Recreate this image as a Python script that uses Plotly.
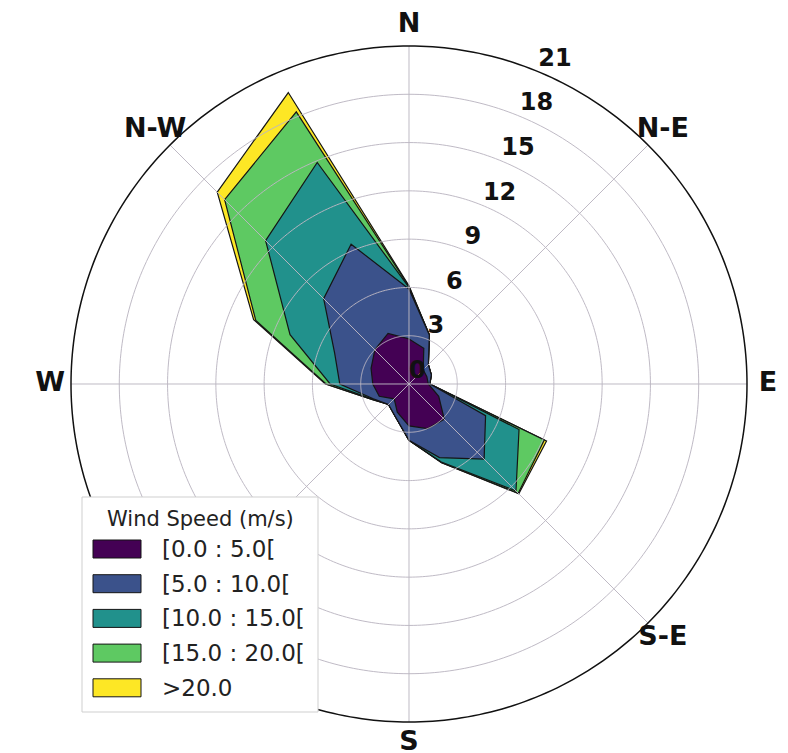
import numpy as np
import plotly.graph_objects as go

# 16 compass sectors, clockwise from north
directions = ["N", "NNE", "NE", "ENE", "E", "ESE", "SE", "SSE",
              "S", "SSW", "SW", "WSW", "W", "WNW", "NW", "NNW"]
dir_degrees = np.arange(len(directions)) * 22.5

# frequency (%) per sector for each wind-speed class
freq_0_5 = [2.8, 2.4, 1.25, 1.2, 1.2, 2.0, 3.1, 3.0, 2.6, 1.9, 1.3, 2.0, 2.25, 2.55, 3.0, 3.4]
freq_5_10 = [3.1, 0.9, 0.45, 0.3, 0.1, 3.15, 3.5, 1.95, 0.9, 0.3, 0.5, 0.4, 2.05, 2.45, 4.5, 6.0]
freq_10_15 = [0.1, 0.0, 0.0, 0.0, 0.0, 2.25, 2.8, 0.3, 0.0, 0.0, 0.0, 0.05, 0.6, 3.0, 5.1, 5.5]
freq_15_20 = [0.05, 0.0, 0.0, 0.0, 0.0, 1.7, 0.2, 0.05, 0.0, 0.0, 0.0, 0.05, 0.25, 2.3, 3.6, 3.4]
freq_20_up = [0.05, 0.0, 0.0, 0.0, 0.0, 0.15, 0.05, 0.0, 0.0, 0.0, 0.0, 0.0, 0.05, 0.15, 0.65, 1.3]

speed_labels = ["[0.0 : 5.0[", "[5.0 : 10.0[", "[10.0 : 15.0[", "[15.0 : 20.0[", ">20.0"]
speed_colors = ["#440154", "#3b528b", "#21918c", "#5ec962", "#fde725"]
legend_title = "Wind Speed (m/s)"

radial_ticks = [0, 3, 6, 9, 12, 15, 18, 21]
compass_ticks = [0, 45, 90, 135, 180, 225, 270, 315]
compass_labels = ["N", "N-E", "E", "S-E", "S", "", "W", "N-W"]

table = np.array([freq_0_5, freq_5_10, freq_10_15, freq_15_20, freq_20_up])
stacked = np.cumsum(table, axis=0)
r_max = radial_ticks[-1]
r_label = 22.3          # radius where the compass names sit
r_axis = r_label        # axis range reaches the compass names

fig = go.Figure()

# stacked contour polygons: largest first so the calmest class sits on top
for i in reversed(range(len(speed_labels))):
    r_vals = np.append(stacked[i], stacked[i][0])
    th_vals = np.append(dir_degrees, dir_degrees[0])
    fig.add_trace(go.Scatterpolar(
        r=r_vals, theta=th_vals, mode="lines", fill="toself",
        fillcolor=speed_colors[i],
        line=dict(color="#151515", width=1.2),
        name=speed_labels[i], showlegend=False, hoverinfo="skip",
    ))

# grid drawn over the filled areas
grid_color = "rgba(188,182,194,0.95)"
circle_theta = np.linspace(0, 360, 361)
for rv in radial_ticks[1:-1]:
    fig.add_trace(go.Scatterpolar(
        r=np.full_like(circle_theta, rv), theta=circle_theta, mode="lines",
        line=dict(color=grid_color, width=1), showlegend=False, hoverinfo="skip",
    ))
spoke_r, spoke_t = [], []
for t in compass_ticks:
    spoke_r += [0, r_max, None]
    spoke_t += [t, t, None]
fig.add_trace(go.Scatterpolar(
    r=spoke_r, theta=spoke_t, mode="lines",
    line=dict(color=grid_color, width=1), showlegend=False, hoverinfo="skip",
))

# outer frame at the top of the scale
fig.add_trace(go.Scatterpolar(
    r=np.full_like(circle_theta, r_max), theta=circle_theta, mode="lines",
    line=dict(color="#111111", width=1.5), showlegend=False, hoverinfo="skip",
))

# radial tick labels along the 22.5 degree bearing
fig.add_trace(go.Scatterpolar(
    r=radial_ticks, theta=[22.5] * len(radial_ticks), mode="text",
    text=[str(v) for v in radial_ticks], textposition="top right",
    textfont=dict(family="DejaVu Sans", size=24, color="#111111", weight="bold"),
    showlegend=False, hoverinfo="skip", cliponaxis=False,
))

# compass labels centred just outside the frame
fig.add_trace(go.Scatterpolar(
    r=[r_label] * len(compass_ticks), theta=compass_ticks, mode="text",
    text=compass_labels, textposition="middle center",
    textfont=dict(family="DejaVu Sans", size=27, color="#111111", weight="bold"),
    showlegend=False, hoverinfo="skip", cliponaxis=False,
))

# legend box drawn in paper coordinates
W, H = 788, 753
box_l, box_r, box_t, box_b = 82, 318, 497, 712
patch_l, patch_w, patch_h = 93, 48, 18
text_l = 160
title_y = 519
row_y0, row_step = 549, 34.7


def px(x):
    return x / W


def py(y):
    return 1 - y / H


shapes = [dict(type="rect", xref="paper", yref="paper",
               x0=px(box_l), x1=px(box_r), y0=py(box_b), y1=py(box_t),
               fillcolor="white", line=dict(color="#cfcfcf", width=1), layer="above")]
annotations = [dict(text=legend_title, xref="paper", yref="paper",
                    x=px((box_l + box_r) / 2), y=py(title_y), xanchor="center", yanchor="middle",
                    showarrow=False, font=dict(family="DejaVu Sans", size=21, color="#222222"))]
for k, (lab, col) in enumerate(zip(speed_labels, speed_colors)):
    cy = row_y0 + k * row_step
    shapes.append(dict(type="rect", xref="paper", yref="paper",
                       x0=px(patch_l), x1=px(patch_l + patch_w),
                       y0=py(cy + patch_h / 2), y1=py(cy - patch_h / 2),
                       fillcolor=col, line=dict(color="#151515", width=1), layer="above"))
    annotations.append(dict(text=lab, xref="paper", yref="paper",
                            x=px(text_l), y=py(cy), xanchor="left", yanchor="middle",
                            showarrow=False,
                            font=dict(family="DejaVu Sans", size=23, color="#222222")))

# polar area: frame radius 338 px around (409, 384)
cx, cy0, frame_px = 409, 384, 338
dom_px = frame_px * r_axis / r_max

fig.update_layout(
    width=W, height=H,
    margin=dict(l=0, r=0, t=0, b=0),
    paper_bgcolor="white",
    showlegend=False,
    shapes=shapes,
    annotations=annotations,
    polar=dict(
        domain=dict(x=[px(cx - dom_px), px(cx + dom_px)],
                    y=[py(cy0 + dom_px), py(cy0 - dom_px)]),
        bgcolor="rgba(0,0,0,0)",
        angularaxis=dict(
            rotation=90, direction="clockwise",
            showticklabels=False, ticks="", showline=False, showgrid=False,
        ),
        radialaxis=dict(
            range=[0, r_axis], showticklabels=False,
            ticks="", showline=False, showgrid=False,
        ),
    ),
)

fig.write_html("out.html")
